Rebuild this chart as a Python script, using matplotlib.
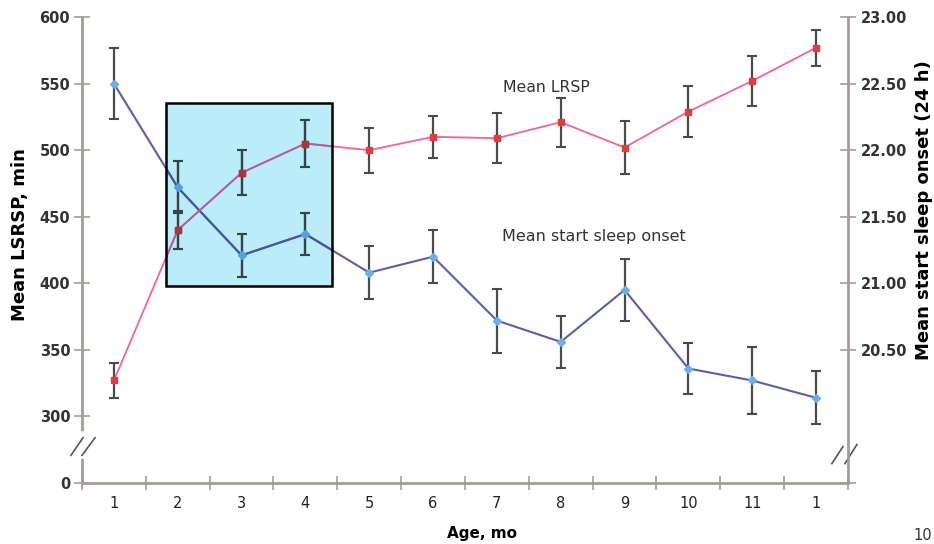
import matplotlib
matplotlib.use("Agg")
import matplotlib.pyplot as plt
from matplotlib.colors import to_rgb
from matplotlib.patches import Rectangle

# ages (months) and tick labels as printed in the figure
months = list(range(1, 13))
month_labels = ["1", "2", "3", "4", "5", "6", "7", "8", "9", "10", "11", "1"]

# mean LRSP (min), left axis
lrsp = [327, 440, 483, 505, 500, 510, 509, 521, 502, 529, 552, 577]
lrsp_err = [13, 14, 17, 17.5, 17, 16, 19, 18.5, 20, 19, 18.5, 13.5]

# mean start of sleep onset (24 h clock), right axis
onset = [22.50, 21.72, 21.21, 21.37, 21.08, 21.20, 20.72, 20.56, 20.95, 20.36, 20.27, 20.14]
onset_err = [0.265, 0.195, 0.163, 0.155, 0.20, 0.20, 0.24, 0.195, 0.23, 0.19, 0.25, 0.20]

left_ticks = [250, 300, 350, 400, 450, 500, 550, 600]
left_labels = ["0", "300", "350", "400", "450", "500", "550", "600"]
right_ticks = [19.5, 20.5, 21.0, 21.5, 22.0, 22.5, 23.0]
right_labels = ["", "20.50", "21.00", "21.50", "22.00", "22.50", "23.00"]

SPINE = "#a69c96"
TXT = "#333333"
BOX = "#bbecfa"
ERR = "#4a4a4a"
LRSP_LINE, LRSP_MARK = "#f0649e", "#e23c3c"
ONSET_LINE, ONSET_MARK = "#5c5cb0", "#6eaee8"


def mult(c):
    # multiply blend with the highlight box colour
    a, b = to_rgb(c), to_rgb(BOX)
    return tuple(x * y for x, y in zip(a, b))


def draw_series(axis, x, y, yerr, line_c, mark_c, marker, ms, lw,
                trans=None, clip=None, blend=False, z=2):
    f = mult if blend else (lambda c: c)
    eb = axis.errorbar(x, y, yerr=yerr, fmt="none", ecolor=f(ERR),
                       elinewidth=1.6, capsize=3.5, capthick=1.5, zorder=z)
    arts = list(eb.lines[1]) + list(eb.lines[2])
    arts += axis.plot(x, y, color=f(line_c), lw=lw, zorder=z + 1)
    arts += axis.plot(x, y, ls="none", marker=marker, ms=ms, color=f(mark_c), zorder=z + 2)
    for a in arts:
        if trans is not None:
            a.set_transform(trans)
        if clip is not None:
            a.set_clip_path(clip)


fig = plt.figure(figsize=(9.34, 5.44), dpi=100)
ax = fig.add_axes([0.0878, 0.1121, 0.8201, 0.8566])
ax2 = ax.twinx()

ax.set_xlim(0.5, 12.5)
ax.set_ylim(250, 600)
ax2.set_ylim(19.5, 23.0)

draw_series(ax, months, lrsp, lrsp_err, LRSP_LINE, LRSP_MARK, "s", 5, 1.3)
draw_series(ax2, months, onset, onset_err, ONSET_LINE, ONSET_MARK, "D", 3.8, 1.5)

# highlighted months 2-4 (box multiplies the marks under it)
box_xy, box_w, box_h = (1.815, 398), 2.6, 137.2
ax.add_patch(Rectangle(box_xy, box_w, box_h, facecolor=BOX, edgecolor="none", zorder=0.5))
clip_box = Rectangle(box_xy, box_w, box_h, transform=ax.transData, facecolor="none")
ax2.add_patch(clip_box)
clip_box.set_visible(False)
draw_series(ax2, months, onset, onset_err, ONSET_LINE, ONSET_MARK, "D", 3.8, 1.5,
            clip=clip_box, blend=True, z=5)
draw_series(ax2, months, lrsp, lrsp_err, LRSP_LINE, LRSP_MARK, "s", 5, 1.3,
            trans=ax.transData, clip=clip_box, blend=True, z=5)
ax2.add_patch(Rectangle(box_xy, box_w, box_h, transform=ax.transData,
                        facecolor="none", edgecolor="black", lw=1.8, zorder=9))

ax.text(7.78, 547, "Mean LRSP", ha="center", va="center", fontsize=11.3, color=TXT)
ax.text(8.52, 435, "Mean start sleep onset", ha="center", va="center",
        fontsize=11.5, color=TXT)

# axes styling
for a in (ax, ax2):
    a.spines["top"].set_visible(False)
    for s in a.spines.values():
        s.set_color(SPINE)
        s.set_linewidth(2)
ax.spines["right"].set_visible(False)
ax2.spines["left"].set_visible(False)
ax2.spines["bottom"].set_visible(False)

ax.set_yticks(left_ticks)
ax.set_yticklabels(left_labels, fontsize=10.5, fontweight="bold", color=TXT)
ax.tick_params(axis="y", direction="inout", length=11, width=1.2, color=SPINE, pad=3)

ax2.set_yticks(right_ticks)
ax2.set_yticklabels(right_labels, fontsize=10.5, fontweight="bold", color=TXT)
ax2.tick_params(axis="y", direction="inout", length=11, width=1.2, color=SPINE, pad=4)

ax.set_xticks([m - 0.5 for m in months] + [12.5])
ax.set_xticklabels([])
ax.set_xticks(months, minor=True)
ax.set_xticklabels(month_labels, minor=True, fontsize=10.5, color="#222222")
ax.tick_params(axis="x", which="major", direction="inout", length=10, width=1.2, color=SPINE)
ax.tick_params(axis="x", which="minor", length=0, pad=9)

# axis breaks
yt = ax.get_yaxis_transform()
ax.plot([0, 0], [270, 286.5], color="white", lw=4, transform=yt, clip_on=False, zorder=8)
ax.plot([-0.0144, 0.0013], [270.8, 284], color="#555555", lw=1.2, transform=yt, clip_on=False, zorder=9)
ax.plot([0.0, 0.017], [270.8, 284], color="#555555", lw=1.2, transform=yt, clip_on=False, zorder=9)
ax.plot([1, 1], [264.6, 277.4], color="white", lw=4, transform=yt, clip_on=False, zorder=8)
ax.plot([0.979, 0.9935], [264.6, 277.4], color="#555555", lw=1.2, transform=yt, clip_on=False, zorder=9)
ax.plot([0.996, 1.0117], [264.6, 278.9], color="#555555", lw=1.2, transform=yt, clip_on=False, zorder=9)

fig.text(0.0214, 0.568, "Mean LSRSP, min", rotation=90, ha="center", va="center",
         fontsize=13, fontweight="bold", color="black")
fig.text(0.989, 0.614, "Mean start sleep onset (24 h)", rotation=90, ha="center",
         va="center", fontsize=13, fontweight="bold", color="black")
fig.text(0.516, 0.02, "Age, mo", ha="center", va="center", fontsize=11,
         fontweight="bold", color="black")
fig.text(0.978, 0.015, "10", ha="left", va="center", fontsize=10.5, color=TXT)

fig.savefig("out.png", dpi=100)
